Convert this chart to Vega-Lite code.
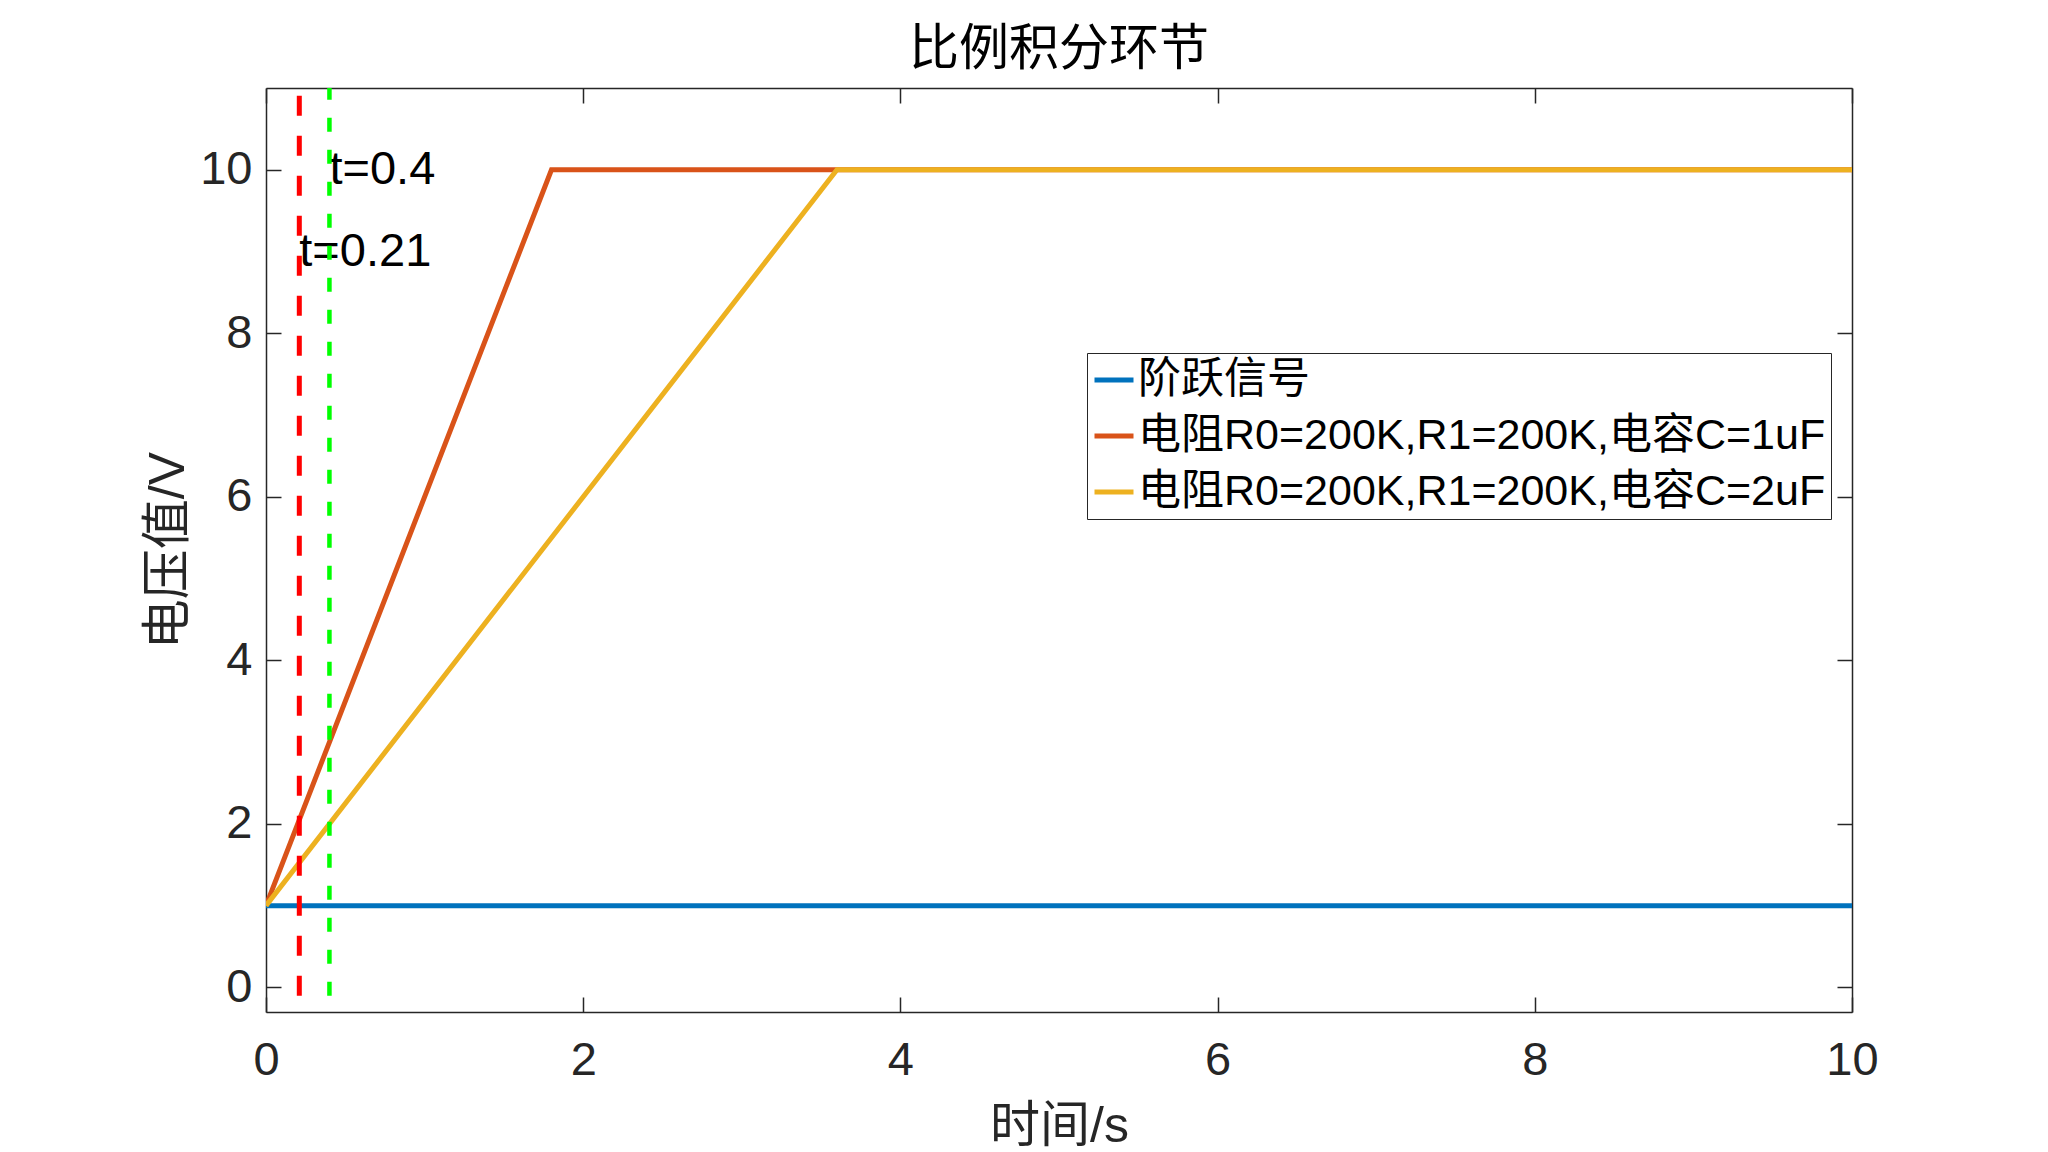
{
  "$schema": "https://vega.github.io/schema/vega-lite/v6.json",
  "width": 1586,
  "height": 924,
  "autosize": "none",
  "padding": {"left": 266, "top": 88, "right": 196, "bottom": 140},
  "background": "white",
  "title": {
    "text": "比例积分环节",
    "fontSize": 50,
    "font": "Liberation Sans, Noto Sans CJK SC",
    "fontWeight": "normal",
    "color": "black",
    "offset": 11
  },
  "datasets": {
    "series": [
      {"t": 0, "v": 1, "s": "阶跃信号"},
      {"t": 10, "v": 1, "s": "阶跃信号"},
      {"t": 0, "v": 1, "s": "电阻R0=200K,R1=200K,电容C=1uF"},
      {"t": 1.8, "v": 10, "s": "电阻R0=200K,R1=200K,电容C=1uF"},
      {"t": 10, "v": 10, "s": "电阻R0=200K,R1=200K,电容C=1uF"},
      {"t": 0, "v": 1, "s": "电阻R0=200K,R1=200K,电容C=2uF"},
      {"t": 3.6, "v": 10, "s": "电阻R0=200K,R1=200K,电容C=2uF"},
      {"t": 10, "v": 10, "s": "电阻R0=200K,R1=200K,电容C=2uF"}
    ],
    "marks": [
      {"t": 0.4, "v": 10, "label": "t=0.4"},
      {"t": 0.21, "v": 9, "label": "t=0.21"}
    ],
    "red": [{"t": 0.21, "y0": -0.1, "y1": 11}],
    "green": [{"t": 0.4, "y0": -0.1, "y1": 11}]
  },
  "resolve": {"axis": {"x": "independent", "y": "independent"}},
  "layer": [
    {
      "data": {"name": "series"},
      "mark": {"type": "line", "strokeWidth": 5, "clip": true},
      "encoding": {
        "x": {
          "field": "t",
          "type": "quantitative",
          "scale": {"domain": [0, 10], "nice": false, "zero": false},
          "axis": {
            "orient": "bottom",
            "values": [0, 2, 4, 6, 8, 10],
            "labelFlush": false,
            "title": "时间/s",
            "titlePadding": 18
          }
        },
        "y": {
          "field": "v",
          "type": "quantitative",
          "scale": {"domain": [-0.3, 11], "nice": false, "zero": false},
          "axis": {
            "orient": "left",
            "values": [0, 2, 4, 6, 8, 10],
            "title": "电压值/V",
            "titlePadding": 6
          }
        },
        "color": {
          "field": "s",
          "type": "nominal",
          "sort": null,
          "scale": {
            "domain": ["阶跃信号", "电阻R0=200K,R1=200K,电容C=1uF", "电阻R0=200K,R1=200K,电容C=2uF"],
            "range": ["#0072BD", "#D95319", "#EDB120"]
          },
          "legend": {
            "orient": "none",
            "legendX": 821,
            "legendY": 265,
            "title": null,
            "symbolType": "stroke",
            "symbolSize": 1521,
            "symbolStrokeWidth": 5,
            "labelFontSize": 43,
            "labelFont": "Liberation Sans, Noto Sans CJK SC",
            "labelColor": "black",
            "labelLimit": 2000,
            "labelOffset": 2,
            "fillColor": "white",
            "strokeColor": "#262626",
            "padding": 5,
            "rowPadding": 12
          }
        }
      }
    },
    {
      "data": {"name": "marks"},
      "mark": {
        "type": "text",
        "align": "left",
        "baseline": "middle",
        "fontSize": 47,
        "font": "Liberation Sans, Noto Sans CJK SC",
        "color": "black"
      },
      "encoding": {
        "x": {
          "field": "t",
          "type": "quantitative",
          "axis": {"orient": "top", "values": [0, 2, 4, 6, 8, 10], "labels": false, "title": null}
        },
        "y": {
          "field": "v",
          "type": "quantitative",
          "axis": {"orient": "right", "values": [0, 2, 4, 6, 8, 10], "labels": false, "title": null}
        },
        "text": {"field": "label"}
      }
    },
    {
      "data": {"name": "red"},
      "mark": {"type": "rule", "color": "#FF0000", "strokeWidth": 5, "strokeDash": [20, 20]},
      "encoding": {
        "x": {"field": "t", "type": "quantitative", "axis": null},
        "y": {"field": "y0", "type": "quantitative", "axis": null},
        "y2": {"field": "y1"}
      }
    },
    {
      "data": {"name": "green"},
      "mark": {"type": "rule", "color": "#00FF00", "strokeWidth": 4.5, "strokeDash": [14, 18]},
      "encoding": {
        "x": {"field": "t", "type": "quantitative", "axis": null},
        "y": {"field": "y0", "type": "quantitative", "axis": null},
        "y2": {"field": "y1"}
      }
    }
  ],
  "config": {
    "view": {"stroke": null},
    "axis": {
      "grid": false,
      "tickSize": -15,
      "tickColor": "#262626",
      "tickWidth": 1.5,
      "domainColor": "#262626",
      "domainWidth": 1.5,
      "labelFont": "Liberation Sans, Noto Sans CJK SC",
      "labelFontSize": 47,
      "labelColor": "#262626",
      "titleFont": "Liberation Sans, Noto Sans CJK SC",
      "titleFontSize": 50,
      "titleFontWeight": "normal",
      "titleColor": "#262626"
    },
    "axisBottom": {"labelPadding": 40},
    "axisLeft": {"labelPadding": 29}
  }
}
